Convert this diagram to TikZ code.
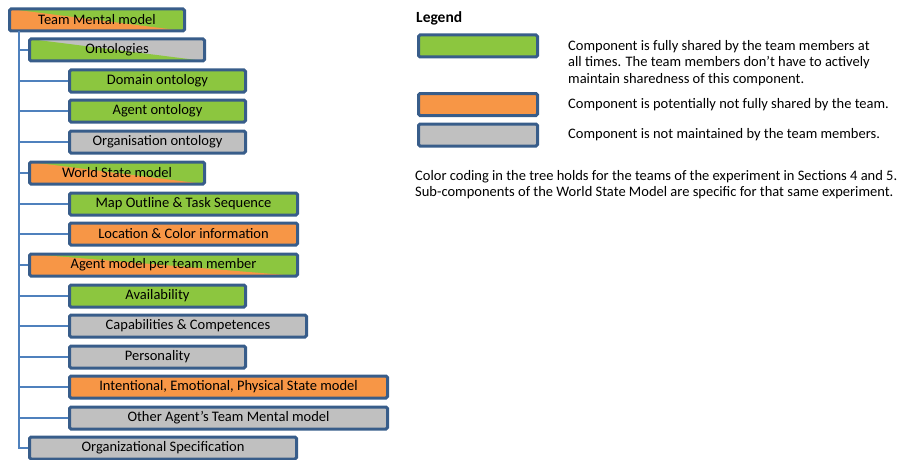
\documentclass[tikz,border=0pt]{standalone}
\usepackage{fontspec}
\setmainfont{Carlito}
\definecolor{cgreen}{HTML}{8CC63F}
\definecolor{corange}{HTML}{F79646}
\definecolor{cgrey}{HTML}{C0C0C0}
\definecolor{cborder}{HTML}{385D8A}
\definecolor{cline}{HTML}{4F81BD}
\tikzset{
  box/.style={draw=cborder, line width=3pt, rounded corners=1.5pt, minimum height=22pt,
    inner sep=0pt, anchor=west, font=\fontsize{14.5}{16}\selectfont, text=black},
  split/.style 2 args={fill=#2, path picture={\fill[#1] (path picture bounding box.north west) -- (path picture bounding box.south west) -- (path picture bounding box.south east) -- cycle;}},
  conn/.style={draw=cline, line width=1.4pt},
  legtext/.style={anchor=west, align=left, inner sep=0pt, font=\fontsize{14.5}{16.6}\selectfont},
}
\begin{document}
\begin{tikzpicture}[x=1pt,y=-1pt]
\useasboundingbox (0,0) rectangle (897,460);
\coordinate (top) at (19,31);
\node[box, split={corange}{cgreen}, minimum width=175pt] (tmm) at (8,20) {Team Mental model};
\node[box, split={cgreen}{cgrey}, minimum width=175pt] (ont) at (28,50) {Ontologies};
\node[box, fill=cgreen, minimum width=176pt] (dom) at (68,81) {Domain ontology};
\node[box, fill=cgreen, minimum width=176pt] (ago) at (68,111) {Agent ontology};
\node[box, fill=cgrey, minimum width=176pt] (org) at (68,142) {Organisation ontology};
\node[box, split={corange}{cgreen}, minimum width=175pt] (wsm) at (28,173) {World State model};
\node[box, fill=cgreen, minimum width=228pt] (map) at (68,204) {Map Outline \& Task Sequence};
\node[box, fill=corange, minimum width=228pt] (loc) at (68,234) {Location \& Color information};
\node[box, split={corange}{cgreen}, minimum width=268pt] (amp) at (28,265) {Agent model per team member};
\node[box, fill=cgreen, minimum width=176pt] (ava) at (68,296) {Availability};
\node[box, fill=cgrey, minimum width=237pt] (cap) at (68,326) {Capabilities \& Competences};
\node[box, fill=cgrey, minimum width=176pt] (per) at (68,357) {Personality};
\node[box, fill=corange, minimum width=318pt] (ies) at (68,387) {Intentional, Emotional, Physical State model};
\node[box, fill=cgrey, minimum width=318pt] (oat) at (68,418) {Other Agent’s Team Mental model};
\node[box, fill=cgrey, minimum width=267pt] (ors) at (28,448) {Organizational Specification};
\coordinate (bot) at (19,448);
\draw[conn] (top) -- (bot) -- (ors.west);
\foreach \n in {ont,dom,ago,org,wsm,map,loc,amp,ava,cap,per,ies,oat}{
  \draw[conn] (\n.west -| top) -- (\n.west);
}
% legend
\node[anchor=west, inner sep=0pt, font=\fontsize{15.5}{17}\selectfont\bfseries] (leg) at (416,18) {Legend};
\node[box, fill=cgreen, minimum width=119pt] (lg) at (417,46) {};
\node[box, fill=corange, minimum width=119pt] (lo) at (417,104.5) {};
\node[box, fill=cgrey, minimum width=119pt] (lr) at (417,135) {};
\node[legtext] (tg) at (568,63) {Component is fully shared by the team members at\\all times. The team members don’t have to actively\\maintain sharedness of this component.};
\node[legtext] (to) at (568,104.5) {Component is potentially not fully shared by the team.};
\node[legtext] (tr) at (568,135) {Component is not maintained by the team members.};
\node[legtext] (foot) at (415,184.5) {Color coding in the tree holds for the teams of the experiment in Sections 4 and 5.\\Sub-components of the World State Model are specific for that same experiment.};
\end{tikzpicture}
\end{document}
